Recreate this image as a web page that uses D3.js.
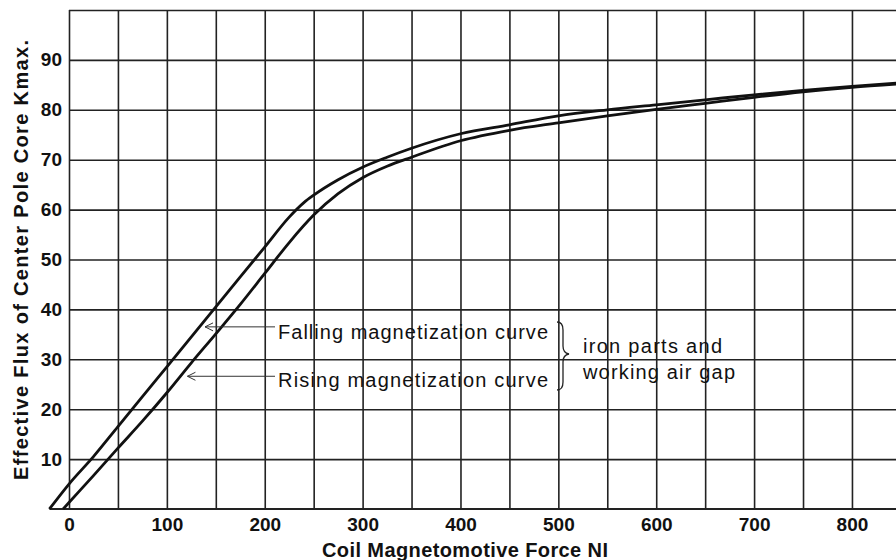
<!DOCTYPE html>
<html>
<head>
<meta charset="utf-8">
<title>Magnetization curves</title>
<style>
  body { margin: 0; background: #fff; }
  svg { display: block; }
  .grid line { stroke: #222; stroke-width: 1.6; }
  .tick text { font: bold 19px "Liberation Sans", Arial, sans-serif; fill: #111; }
  .curve { fill: none; stroke: #111; stroke-width: 2.8; }
  .note { font: 20px "Liberation Sans", Arial, sans-serif; fill: #111; }
  .title { font: bold 20px "Liberation Sans", Arial, sans-serif; fill: #111; }
  .leader { fill: none; stroke: #333; stroke-width: 1; }
</style>
</head>
<body>
<svg width="896" height="560"></svg>
<script src="https://cdn.jsdelivr.net/npm/d3@7"></script>
<script>
// x values are coil NI, y values are flux
var fallingNI   = [-20, 0, 25, 50, 75, 100, 125, 150, 175, 200, 225, 240, 250, 275, 300, 325, 350, 400, 450, 500, 550, 600, 650, 700, 750, 800, 850];
var fallingFlux = [0, 5, 10.5, 16.5, 22.5, 28.5, 34.5, 40.5, 46.5, 52.5, 58.5, 61.4, 62.9, 66.0, 68.5, 70.5, 72.3, 75.2, 77, 78.8, 80, 81, 82, 83, 83.9, 84.7, 85.4];

var risingNI   = [-6, 0, 25, 50, 75, 100, 125, 150, 175, 200, 225, 250, 275, 300, 325, 350, 400, 450, 500, 550, 600, 650, 700, 750, 800, 850];
var risingFlux = [0, 1.3, 6.7, 12.2, 17.6, 23.3, 29.3, 35.1, 41.0, 47.2, 53.4, 58.9, 63.2, 66.4, 68.7, 70.5, 73.8, 75.9, 77.4, 78.8, 80.1, 81.3, 82.5, 83.6, 84.5, 85.2];

var xTicks = [0, 100, 200, 300, 400, 500, 600, 700, 800];
var yTicks = [10, 20, 30, 40, 50, 60, 70, 80, 90];

var svg = d3.select("svg");

var x = d3.scaleLinear().domain([0, 845]).range([69, 896]);
var y = d3.scaleLinear().domain([0, 100]).range([509, 10]);

// grid through the axes
var xAxis = d3.axisBottom(x)
    .tickValues(d3.range(0, 851, 50))
    .tickSize(-(y(0) - y(100)))
    .tickPadding(9)
    .tickFormat(function(d) { return xTicks.indexOf(d) >= 0 ? d : ""; });

var yAxis = d3.axisLeft(y)
    .tickValues(d3.range(10, 101, 10))
    .tickSize(-(896 - x(0)))
    .tickPadding(7)
    .tickFormat(function(d) { return yTicks.indexOf(d) >= 0 ? d : ""; });

svg.append("g")
    .attr("class", "grid")
    .attr("transform", "translate(0," + y(0) + ")")
    .call(xAxis)
    .call(function(g) { g.select(".domain").remove(); });

svg.append("g")
    .attr("class", "grid")
    .attr("transform", "translate(" + x(0) + ",0)")
    .call(yAxis)
    .call(function(g) { g.select(".domain").remove(); });

// baseline runs a little left of the axis, where the curves start
svg.append("line")
    .attr("x1", x(-20)).attr("x2", 896)
    .attr("y1", y(0)).attr("y2", y(0))
    .attr("stroke", "#222").attr("stroke-width", 1.8);

var line = d3.line()
    .x(function(d) { return x(d[0]); })
    .y(function(d) { return y(d[1]); })
    .curve(d3.curveMonotoneX);

svg.append("path")
    .attr("class", "curve")
    .attr("d", line(d3.zip(fallingNI, fallingFlux)));

svg.append("path")
    .attr("class", "curve")
    .attr("d", line(d3.zip(risingNI, risingFlux)));

// arrows and labels
var notes = [
  {text: "Falling magnetization curve", tipX: 139, tipY: 36.5, textY: 339},
  {text: "Rising magnetization curve", tipX: 121, tipY: 26.6, textY: 387}
];

notes.forEach(function(n) {
  var tx = x(n.tipX), ty = y(n.tipY);
  svg.append("path")
      .attr("class", "leader")
      .attr("d", "M" + 275 + "," + ty + "L" + tx + "," + ty +
                 "M" + (tx + 8) + "," + (ty - 4) + "L" + tx + "," + ty + "L" + (tx + 8) + "," + (ty + 4));
  svg.append("text")
      .attr("class", "note")
      .attr("x", 278)
      .attr("y", n.textY)
      .attr("textLength", 270)
      .text(n.text);
});

// brace
svg.append("path")
    .attr("fill", "none")
    .attr("stroke", "#222")
    .attr("stroke-width", 1.3)
    .attr("d", "M557,322 Q563,322 563,330 L563,346 Q563,353 569,354 Q563,355 563,362 L563,382 Q563,390 557,390");

svg.append("text").attr("class", "note").attr("x", 583).attr("y", 353)
    .attr("textLength", 139).text("iron parts and");
svg.append("text").attr("class", "note").attr("x", 583).attr("y", 379)
    .attr("textLength", 152).text("working air gap");

// axis titles
svg.append("text")
    .attr("class", "title")
    .attr("text-anchor", "middle")
    .attr("x", 465)
    .attr("y", 557)
    .attr("textLength", 286)
    .text("Coil Magnetomotive Force NI");

svg.append("text")
    .attr("class", "title")
    .attr("text-anchor", "middle")
    .attr("transform", "translate(28,260) rotate(-90)")
    .attr("textLength", 440)
    .text("Effective Flux of Center Pole Core Kmax.");
</script>
</body>
</html>
